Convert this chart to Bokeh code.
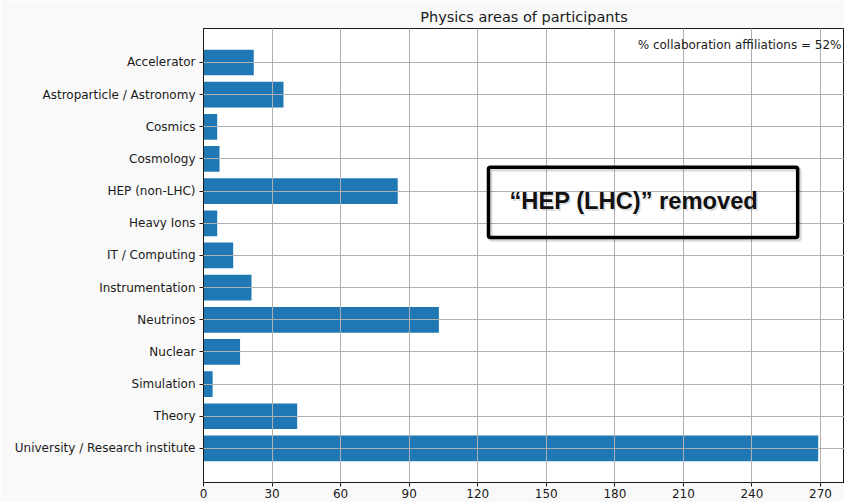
from bokeh.plotting import figure
from bokeh.models import Range1d, FixedTicker, Label, BoxAnnotation
from bokeh.embed import file_html
from bokeh.resources import INLINE

# ---- data ----
categories = ["Accelerator", "Astroparticle / Astronomy", "Cosmics", "Cosmology",
              "HEP (non-LHC)", "Heavy Ions", "IT / Computing", "Instrumentation",
              "Neutrinos", "Nuclear", "Simulation", "Theory",
              "University / Research institute"]
counts = [22, 35, 6, 7, 85, 6, 13, 21, 103, 16, 4, 41, 269]
x_ticks = [0, 30, 60, 90, 120, 150, 180, 210, 240, 270]
title_text = "Physics areas of participants"
note_text = "% collaboration affiliations = 52%"
removed_text = "\u201cHEP (LHC)\u201d removed"

positions = list(range(len(categories)))

FONT = "DejaVu Sans"
BAR = "#1f77b4"

p = figure(width=844, height=502, output_backend="svg", toolbar_location=None,
           x_range=Range1d(0, 280.5), y_range=Range1d(13.06, -1.057),
           min_border_left=203, min_border_right=0, min_border_top=28,
           min_border_bottom=20)

p.hbar(y=positions, right=counts, left=0, height=0.8, fill_color=BAR, line_color=None)

p.background_fill_color = "white"
p.border_fill_color = "#f9f9f9"
p.outline_line_color = "#1a1a1a"
p.outline_line_width = 1

p.title.text = title_text
p.title.align = "center"
p.title.text_font = FONT
p.title.text_font_size = "14.5px"
p.title.text_font_style = "normal"
p.title.text_color = "#1a1a1a"
p.title.standoff = 8
p.title.offset = 7

p.xaxis.ticker = FixedTicker(ticks=x_ticks)
p.yaxis.ticker = FixedTicker(ticks=positions)
p.yaxis.major_label_overrides = {i: c for i, c in zip(positions, categories)}
for ax in (p.xaxis, p.yaxis):
    ax.minor_tick_line_color = None
    ax.major_tick_in = 0
    ax.major_tick_out = 4
    ax.major_label_text_font = FONT
    ax.major_label_text_font_size = "12px"
    ax.major_label_text_color = "#1a1a1a"
    ax.axis_line_color = "#1a1a1a"
    ax.major_tick_line_color = "#1a1a1a"
p.yaxis.major_label_standoff = 4
p.xaxis.major_label_standoff = 2

for g in (p.xgrid, p.ygrid):
    g.grid_line_color = "#b0b0b0"
    g.grid_line_width = 1
    g.level = "guide"
p.ygrid.ticker = FixedTicker(ticks=positions)
p.xgrid.ticker = FixedTicker(ticks=x_ticks)

# note at top right
p.add_layout(Label(x=280.5, y=-0.53, x_offset=-3, text=note_text, text_align="right",
                   text_baseline="middle", text_font=FONT, text_font_size="12px",
                   text_color="#1a1a1a"))

# "removed" box with soft shadow
p.add_layout(BoxAnnotation(left=125.6, right=260.9, top=3.33, bottom=5.51,
                           fill_alpha=0, line_color="black", line_alpha=0.15,
                           line_width=4, level="annotation"))
p.add_layout(BoxAnnotation(left=124.7, right=260, top=3.26, bottom=5.44,
                           fill_alpha=0, line_color="black", line_alpha=1,
                           line_width=3.5, border_radius=2, level="annotation"))
p.add_layout(Label(x=134.6, y=4.32, y_offset=-2, text=removed_text, text_align="left",
                   text_baseline="middle", text_font="Liberation Sans",
                   text_font_style="bold", text_font_size="23.7px",
                   text_color="black", text_alpha=0.15))
p.add_layout(Label(x=133.9, y=4.32, text=removed_text, text_align="left",
                   text_baseline="middle", text_font="Liberation Sans",
                   text_font_style="bold", text_font_size="23.7px",
                   text_color="#111111"))

open("out.html", "w").write(file_html(p, INLINE))
